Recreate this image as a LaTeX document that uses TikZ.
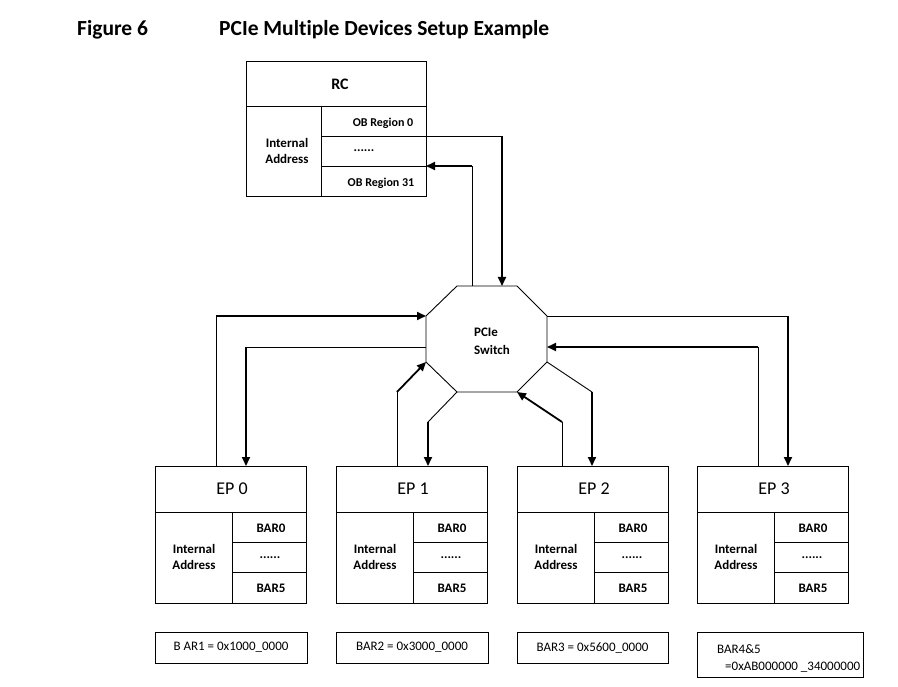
\documentclass[tikz,border=0pt]{standalone}
\usepackage{fontspec}
\setmainfont[Ligatures=NoCommon]{Carlito}
\usetikzlibrary{arrows.meta}

\tikzset{
  box/.style={draw, line width=0.9pt, inner sep=0pt},
  wire/.style={line width=0.9pt},
  flow/.style={line width=1.8pt, -{Triangle[length=9pt,width=8pt]}},
  small/.style={font=\fontsize{13}{16}\selectfont\bfseries, align=center, inner sep=0pt},
  obtext/.style={font=\fontsize{12}{14}\selectfont\bfseries, inner sep=0pt},
  eptitle/.style={font=\fontsize{18}{20}\selectfont, inner sep=0pt},
  valtext/.style={font=\fontsize{13}{15}\selectfont, inner sep=0pt},
  caption/.style={font=\fontsize{21.5}{24}\selectfont\bfseries, inner sep=0pt},
}

\begin{document}
\begin{tikzpicture}[x=1pt,y=-1pt]
\useasboundingbox (0,0) rectangle (898,687);

% caption
\node[caption, anchor=base west] (fig) at (77,36) {Figure 6};
\node[caption, anchor=base west] (title) at (219,36) {PCIe Multiple Devices Setup Example};

% root complex
\node[box, minimum width=180, minimum height=135] (rc) at (336,128.5) {};
\draw[wire] (246,106) -- (426,106);
\draw[wire] (321,106) -- (321,196);
\draw[wire] (321,136) -- (426,136);
\draw[wire] (321,166) -- (426,166);
\node[font=\fontsize{16}{18}\selectfont\bfseries, inner sep=0pt] (rc-title) at (340,84) {RC};
\node[small] (rc-int) at (287,151) {Internal\\Address};
\node[obtext] (rc-ob0) at (383,123) {OB Region 0};
\node[small] (rc-dots) at (364,151) {......};
\node[obtext] (rc-ob31) at (381,183) {OB Region 31};
\coordinate (rc-port0) at (426,136);
\coordinate (rc-port31) at (426,166);

% switch
\coordinate (sw-n1) at (457,286);
\coordinate (sw-n2) at (517,286);
\coordinate (sw-e1) at (547,316);
\coordinate (sw-e2) at (547,362);
\coordinate (sw-s2) at (517,392);
\coordinate (sw-s1) at (457,392);
\coordinate (sw-w2) at (426,362);
\coordinate (sw-w1) at (426,316);
\draw[wire] (sw-n1) -- (sw-n2) -- (sw-e1) -- (sw-e2) -- (sw-s2) -- (sw-s1) -- (sw-w2) -- (sw-w1) -- cycle;
\node[font=\fontsize{13}{18}\selectfont\bfseries, align=left, inner sep=0pt] (sw) at (492,341) {PCIe\\Switch};
\coordinate (sw-up) at (502,286);
\coordinate (sw-rc) at (472,286);
\coordinate (sw-w) at (426,347);
\coordinate (sw-e) at (547,347);

% end points
\foreach \i/\l in {0/155,1/336,2/517,3/697}{
  \node[box, minimum width=151, minimum height=137] (ep\i) at (\l+75.5,534.5) {};
  \draw[wire] (\l,512) -- (\l+151,512);
  \draw[wire] (\l+77,512) -- (\l+77,603);
  \draw[wire] (\l+77,542) -- (\l+151,542);
  \draw[wire] (\l+77,572) -- (\l+151,572);
  \node[eptitle] (ep\i-title) at (\l+77,489) {EP \i};
  \node[small] (ep\i-int) at (\l+39,557) {Internal\\Address};
  \node[small] (ep\i-bar0) at (\l+116,528) {BAR0};
  \node[small] (ep\i-dots) at (\l+115,558) {......};
  \node[small] (ep\i-bar5) at (\l+116,588) {BAR5};
}
\coordinate (ep0-up) at (216,466);
\coordinate (ep0-dn) at (246,466);
\coordinate (ep1-up) at (397,466);
\coordinate (ep1-dn) at (428,466);
\coordinate (ep2-up) at (562,466);
\coordinate (ep2-dn) at (592,466);
\coordinate (ep3-up) at (758,466);
\coordinate (ep3-dn) at (788,466);
\coordinate (bend1) at (428,422);
\coordinate (bend2) at (562,422);

% RC <-> switch
\draw[wire] (rc-port0) -- (rc-port0 -| sw-up);
\draw[flow] (rc-port0 -| sw-up) -- (sw-up);
\draw[wire] (sw-rc) -- (sw-rc |- rc-port31);
\draw[flow] (sw-rc |- rc-port31) -- (rc-port31);

% EP0
\draw[wire] (ep0-up) -- (ep0-up |- sw-w1);
\draw[flow] (ep0-up |- sw-w1) -- (sw-w1);
\draw[wire] (sw-w) -- (sw-w -| ep0-dn);
\draw[flow] (sw-w -| ep0-dn) -- (ep0-dn);
% EP1
\draw[wire] (ep1-up) -- (ep1-up |- sw-s1);
\draw[flow] (ep1-up |- sw-s1) -- (sw-w2);
\draw[wire] (sw-s1) -- (bend1);
\draw[flow] (bend1) -- (ep1-dn);
% EP2
\draw[wire] (ep2-up) -- (bend2);
\draw[flow] (bend2) -- (sw-s2);
\draw[wire] (sw-e2) -- (ep2-dn |- sw-s2);
\draw[flow] (ep2-dn |- sw-s2) -- (ep2-dn);
% EP3
\draw[wire] (ep3-up) -- (ep3-up |- sw-e);
\draw[flow] (ep3-up |- sw-e) -- (sw-e);
\draw[wire] (sw-e1) -- (sw-e1 -| ep3-dn);
\draw[flow] (sw-e1 -| ep3-dn) -- (ep3-dn);

% BAR values
\node[box, valtext, minimum width=152, minimum height=31] (val0) at (231,647.5) {B AR1 = 0x1000\_0000};
\node[box, valtext, minimum width=152, minimum height=31] (val1) at (412,647.5) {BAR2 = 0x3000\_0000};
\node[box, valtext, minimum width=151, minimum height=31] (val2) at (592.5,647.5) {BAR3 = 0x5600\_0000};
\node[box, minimum width=166, minimum height=45] (val3) at (780,654.5) {};
\node[valtext, anchor=west] (val3-a) at (717,649) {BAR4\&5};
\node[valtext, anchor=west] (val3-b) at (725,667) {=0xAB000000 \_34000000};

\end{tikzpicture}
\end{document}
